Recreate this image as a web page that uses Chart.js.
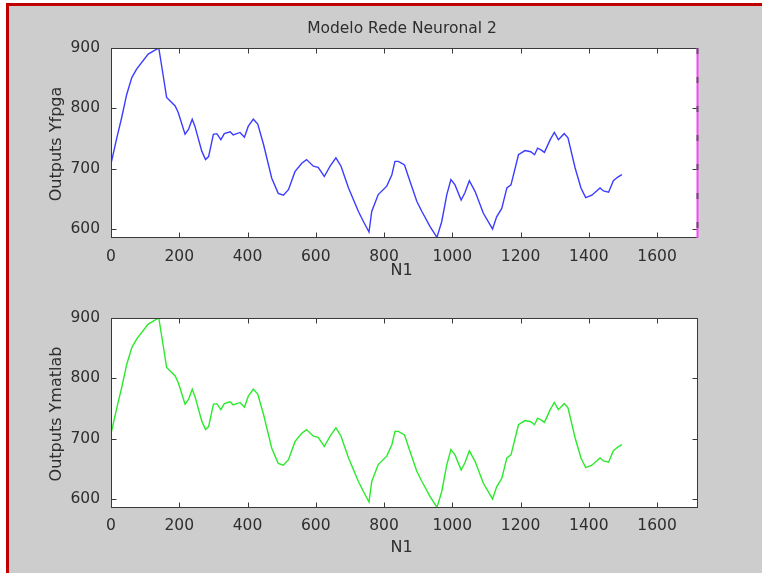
<!DOCTYPE html>
<html>
<head>
<meta charset="utf-8">
<script src="https://cdn.jsdelivr.net/npm/chart.js@4/dist/chart.umd.min.js"></script>
<style>
  html, body { margin: 0; padding: 0; background: #fff; }
  #page { position: relative; width: 762px; height: 573px; overflow: hidden; }
  #frame { position: absolute; left: 6px; top: 3px; width: 756px; height: 570px; background: #cdcdcd;
           border-left: 3px solid #c00000; border-top: 3px solid #c00000; box-sizing: border-box; }
  canvas { position: absolute; left: 0; top: 0; }
</style>
</head>
<body>
<div id="page">
  <div id="frame"></div>
  <canvas id="chart-fpga" width="762" height="573"></canvas>
  <canvas id="chart-matlab" width="762" height="573"></canvas>
</div>
<script>
// sample index N1
const n1 = [0, 17, 31, 46, 61, 75, 109, 134, 140, 153, 163, 188, 197, 217, 227, 238, 246, 266, 277, 286,
    300, 310, 322, 332, 349, 358, 378, 391, 402, 417, 430, 447, 471, 490, 505, 520, 539, 559, 573, 593,
    607, 625, 642, 659, 674, 696, 725, 740, 756, 764, 783, 808, 823, 832, 842, 860, 876, 896, 911, 935,
    955, 969, 984, 996, 1008, 1026, 1037, 1050, 1067, 1091, 1118, 1130, 1145, 1160, 1172, 1194, 1213, 1230, 1241, 1250,
    1260, 1270, 1287, 1299, 1311, 1328, 1339, 1360, 1377, 1391, 1409, 1433, 1443, 1458, 1472, 1485, 1497];

const yFpga = [708, 751, 784, 823, 851, 865, 890, 898, 900, 854, 818, 804, 793, 757, 765, 782, 770, 729, 715, 720,
    757, 758, 748, 758, 761, 756, 760, 752, 770, 782, 774, 740, 684, 659, 656, 665, 695, 709, 715, 704,
    702, 687, 704, 718, 704, 668, 629, 612, 595, 629, 657, 671, 690, 712, 712, 706, 679, 646, 629, 604,
    586, 612, 657, 682, 673, 648, 660, 680, 662, 626, 600, 620, 634, 668, 673, 723, 730, 728, 723, 734,
    731, 727, 748, 760, 748, 758, 751, 701, 668, 652, 656, 668, 663, 661, 680, 686, 690];

const yMatlab = [708, 751, 784, 823, 851, 865, 890, 898, 900, 854, 818, 804, 793, 757, 765, 782, 770, 729, 715, 720,
    757, 758, 748, 758, 761, 756, 760, 752, 770, 782, 774, 740, 684, 659, 656, 665, 695, 709, 715, 704,
    702, 687, 704, 718, 704, 668, 629, 612, 595, 629, 657, 671, 690, 712, 712, 706, 679, 646, 629, 604,
    586, 612, 657, 682, 673, 648, 660, 680, 662, 626, 600, 620, 634, 668, 673, 723, 730, 728, 723, 734,
    731, 727, 748, 760, 748, 758, 751, 701, 668, 652, 656, 668, 663, 661, 680, 686, 690];

const xTicks = [0, 200, 400, 600, 800, 1000, 1200, 1400, 1600];
const yTicks = [600, 700, 800, 900];

const FONT = '"DejaVu Sans", sans-serif';

// matlab style box: white area, frame, inward ticks on all sides, texts
const matlabAxes = {
    id: 'matlabAxes',
    beforeDatasetsDraw(chart) {
        const a = chart.chartArea;
        chart.ctx.save();
        chart.ctx.fillStyle = '#ffffff';
        chart.ctx.fillRect(a.left, a.top, a.right - a.left, a.bottom - a.top);
        chart.ctx.restore();
    },
    afterDraw(chart, args, opts) {
        const ctx = chart.ctx;
        const a = chart.chartArea;
        const sx = chart.scales.x, sy = chart.scales.y;
        const l = Math.round(a.left) + 0.5, r = Math.round(a.right) - 0.5;
        const t = Math.round(a.top) + 0.5, b = Math.round(a.bottom) - 0.5;
        ctx.save();
        ctx.strokeStyle = '#3a3a3a';
        ctx.lineWidth = 1;
        ctx.strokeRect(l, t, r - l, b - t);
        ctx.beginPath();
        xTicks.forEach(v => {
            const px = Math.round(sx.getPixelForValue(v)) + 0.5;
            ctx.moveTo(px, b); ctx.lineTo(px, b - 5);
            ctx.moveTo(px, t); ctx.lineTo(px, t + 5);
        });
        yTicks.forEach(v => {
            const py = Math.round(sy.getPixelForValue(v)) + 0.5;
            ctx.moveTo(l, py); ctx.lineTo(l + 5, py);
            ctx.moveTo(r, py); ctx.lineTo(r - 5, py);
        });
        ctx.stroke();

        if (opts.magenta) {
            ctx.strokeStyle = '#ff40ff';
            ctx.lineWidth = 2;
            ctx.beginPath();
            ctx.moveTo(r, a.top); ctx.lineTo(r, a.bottom);
            ctx.stroke();
            ctx.strokeStyle = '#5a5a5a';
            ctx.lineWidth = 2;
            ctx.setLineDash([6, 23]);
            ctx.beginPath();
            ctx.moveTo(r, a.top); ctx.lineTo(r, a.bottom);
            ctx.stroke();
            ctx.setLineDash([]);
        }

        ctx.fillStyle = '#2e2e2e';
        if (opts.title) {
            ctx.font = '15.5px ' + FONT;
            ctx.textAlign = 'center';
            ctx.textBaseline = 'alphabetic';
            ctx.fillText(opts.title, 402, 33);
        }
        ctx.font = '16px ' + FONT;
        ctx.textAlign = 'center';
        ctx.textBaseline = 'alphabetic';
        ctx.fillText('N1', (a.left + a.right) / 2 - 3, a.bottom + opts.xTitleGap);
        ctx.translate(61, (a.top + a.bottom) / 2 + 1);
        ctx.rotate(-Math.PI / 2);
        ctx.fillText(opts.yTitle, 0, 0);
        ctx.restore();
    }
};

function makeConfig(values, color, pad, axesOpts) {
    return {
        type: 'line',
        plugins: [matlabAxes],
        data: {
            datasets: [{
                data: n1.map((x, i) => ({x: x, y: values[i]})),
                borderColor: color,
                borderWidth: 1.4,
                pointRadius: 0,
                tension: 0,
                fill: false
            }]
        },
        options: {
            responsive: false,
            animation: false,
            layout: {padding: pad},
            plugins: {
                legend: {display: false},
                tooltip: {enabled: false},
                matlabAxes: axesOpts
            },
            scales: {
                x: {
                    type: 'linear',
                    min: 0,
                    max: 1720,
                    grid: {display: false},
                    border: {display: false},
                    ticks: {
                        autoSkip: false, maxRotation: 0, padding: axesOpts.xTickPad, color: '#2e2e2e',
                        font: {family: FONT, size: 15.5},
                        callback: v => String(v)
                    },
                    afterBuildTicks: s => { s.ticks = xTicks.map(v => ({value: v})); },
                    afterFit: s => { s.height = 40; }
                },
                y: {
                    min: 585,
                    max: 900,
                    grid: {display: false},
                    border: {display: false},
                    ticks: {
                        autoSkip: false, padding: 3, color: '#2e2e2e',
                        font: {family: FONT, size: 15.5},
                        callback: v => String(v)
                    },
                    afterBuildTicks: s => { s.ticks = yTicks.map(v => ({value: v})); },
                    afterFit: s => { s.width = 61; }
                }
            }
        }
    };
}

var chart_fpga = new Chart(document.getElementById('chart-fpga'),
    makeConfig(yFpga, '#3c3cff', {left: 50, right: 64, top: 48, bottom: 295},
        {title: 'Modelo Rede Neuronal 2', yTitle: 'Outputs Yfpga', xTitleGap: 37, xTickPad: 2, magenta: true}));

var chart_matlab = new Chart(document.getElementById('chart-matlab'),
    makeConfig(yMatlab, '#2bea2b', {left: 50, right: 64, top: 318, bottom: 25},
        {yTitle: 'Outputs Ymatlab', xTitleGap: 44, xTickPad: 1, magenta: false}));
</script>
</body>
</html>
